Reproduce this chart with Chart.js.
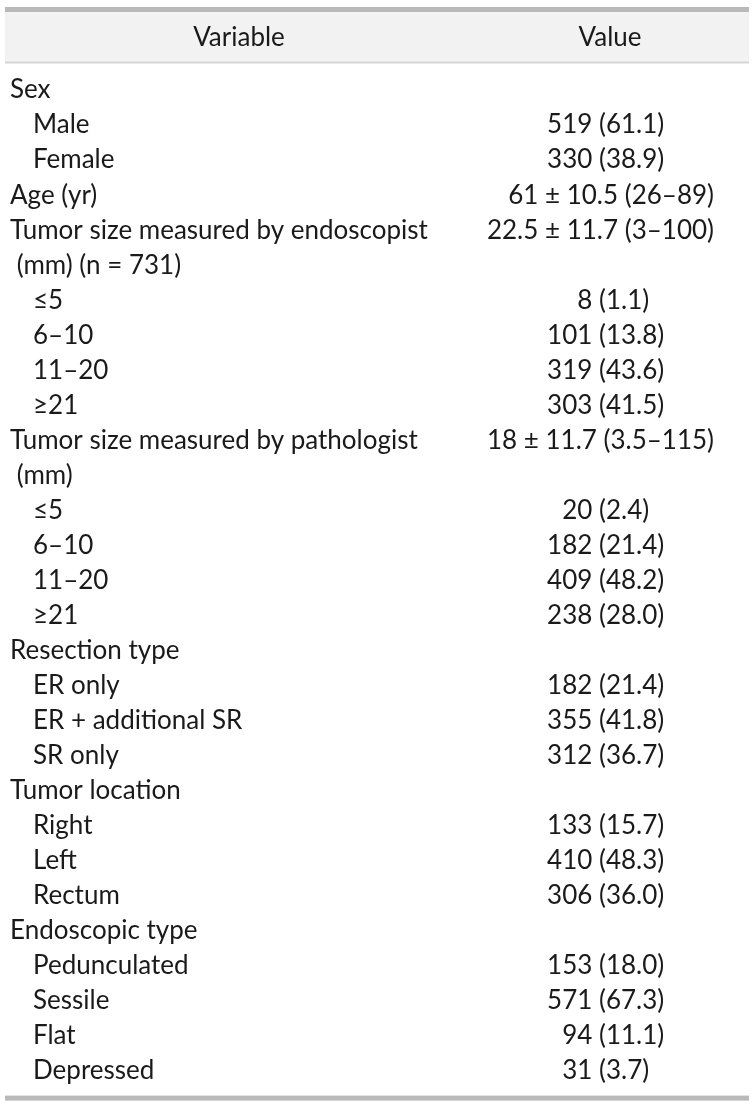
<!DOCTYPE html>
<html>
<head>
<meta charset="utf-8">
<script src="https://cdn.jsdelivr.net/npm/chart.js@4.4.1/dist/chart.umd.min.js"></script>
<style>
  html, body { margin: 0; padding: 0; background: #ffffff; }
  #wrap { width: 756px; height: 1107px; position: relative; }
</style>
</head>
<body>
<div id="wrap"><canvas id="table-chart"></canvas></div>
<script>
// table content, one entry per body row
const headers = ["Variable", "Value"];

const rowLabels = [
  "Sex", "Male", "Female", "Age (yr)",
  "Tumor size measured by endoscopist", " (mm) (n = 731)",
  "≤5", "6–10", "11–20", "≥21",
  "Tumor size measured by pathologist", " (mm)",
  "≤5", "6–10", "11–20", "≥21",
  "Resection type", "ER only", "ER + additional SR", "SR only",
  "Tumor location", "Right", "Left", "Rectum",
  "Endoscopic type", "Pedunculated", "Sessile", "Flat", "Depressed"
];

const rowValues = [
  "", "519 (61.1)", "330 (38.9)", "61 ± 10.5 (26–89)",
  "22.5 ± 11.7 (3–100)", "",
  "8 (1.1)", "101 (13.8)", "319 (43.6)", "303 (41.5)",
  "18 ± 11.7 (3.5–115)", "",
  "20 (2.4)", "182 (21.4)", "409 (48.2)", "238 (28.0)",
  "", "182 (21.4)", "355 (41.8)", "312 (36.7)",
  "", "133 (15.7)", "410 (48.3)", "306 (36.0)",
  "", "153 (18.0)", "571 (67.3)", "94 (11.1)", "31 (3.7)"
];

// 0 = group heading, 1 = sub item
const rowLevels = [
  0, 1, 1, 0,
  0, 0,
  1, 1, 1, 1,
  0, 0,
  1, 1, 1, 1,
  0, 1, 1, 1,
  0, 1, 1, 1,
  0, 1, 1, 1, 1
];

const FONT = '26px Lato';
const TEXT_COLOR = '#1a1a1a';

// draws the header band, rules and cell texts using the scales
const tablePlugin = {
  id: 'tableText',
  afterDraw(chart, args, opts) {
    const ctx = chart.ctx;
    const x = chart.scales.x;
    const y = chart.scales.y;
    const left = x.getPixelForValue(opts.tableLeft);
    const right = x.getPixelForValue(opts.tableRight);
    const top = chart.chartArea.top;
    const bottom = chart.chartArea.bottom;

    ctx.save();
    // header band
    ctx.fillStyle = '#f2f2f2';
    ctx.fillRect(left, 12, right - left, top - 22);
    ctx.fillStyle = '#b9b9b9';
    ctx.fillRect(left, 7, right - left, 5);
    ctx.fillStyle = '#d6d6d6';
    ctx.fillRect(left, top - 11, right - left, 2);
    // bottom rule
    ctx.fillStyle = '#b9b9b9';
    ctx.fillRect(left, bottom + 7, right - left, 5);

    ctx.font = FONT;
    ctx.fillStyle = TEXT_COLOR;
    ctx.textBaseline = 'middle';
    ctx.textAlign = 'center';
    const headY = (12 + top - 10) / 2;
    ctx.fillText(headers[0], x.getPixelForValue(opts.headerCenters[0]), headY);
    ctx.fillText(headers[1], x.getPixelForValue(opts.headerCenters[1]), headY);

    const spaceW = ctx.measureText(' ').width;
    const parenX = x.getPixelForValue(opts.parenX);

    rowLabels.forEach((label, i) => {
      const py = y.getPixelForValue(i);
      ctx.textAlign = 'left';
      const lx = rowLevels[i] === 1 ? opts.indentX : opts.labelX;
      ctx.fillText(label, x.getPixelForValue(lx), py);

      const val = rowValues[i];
      if (!val) return;
      if (val.includes('±')) {
        // mean ± sd rows sit flush right
        ctx.textAlign = 'right';
        ctx.fillText(val, x.getPixelForValue(opts.valueRight), py);
      } else {
        // n (%) rows line up on the opening parenthesis
        const cut = val.indexOf(' (');
        ctx.textAlign = 'right';
        ctx.fillText(val.slice(0, cut), parenX - spaceW, py);
        ctx.textAlign = 'left';
        ctx.fillText(val.slice(cut + 1), parenX, py);
      }
    });
    ctx.restore();
  }
};

const ctx = document.getElementById('table-chart').getContext('2d');
const myChart = new Chart(ctx, {
  type: 'bar',
  data: {
    labels: rowLabels.map((l, i) => String(i)),
    datasets: [{ data: rowLabels.map(() => null) }]
  },
  options: {
    responsive: true,
    maintainAspectRatio: false,
    animation: false,
    indexAxis: 'y',
    layout: { padding: { top: 72.5, bottom: 18.4, left: 0, right: 0 } },
    plugins: {
      legend: { display: false },
      tooltip: { enabled: false },
      tableText: {
        tableLeft: 5,
        tableRight: 749,
        labelX: 10,
        indentX: 33,
        valueRight: 714,
        parenX: 599,
        headerCenters: [239, 610]
      }
    },
    scales: {
      x: { type: 'linear', min: 0, max: 756, display: false },
      y: { type: 'category', offset: true, display: false }
    }
  },
  plugins: [tablePlugin]
});
</script>
</body>
</html>
